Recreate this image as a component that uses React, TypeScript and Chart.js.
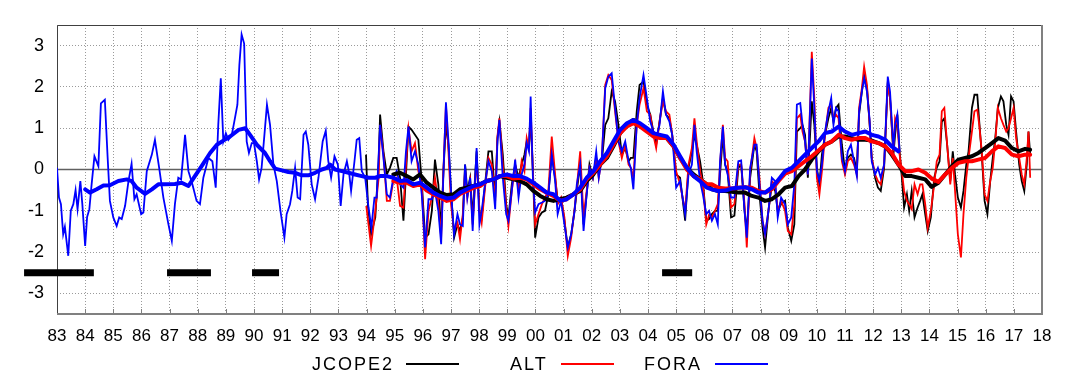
import React, { useEffect, useRef } from "react";
import { Chart, registerables } from "chart.js";

Chart.register(...registerables);

const FONT = "'Liberation Sans', Arial, Helvetica, sans-serif";

const X_TICK_YEARS = [
  1983, 1984, 1985, 1986, 1987, 1988, 1989, 1990, 1991, 1992, 1993, 1994,
  1995, 1996, 1997, 1998, 1999, 2000, 2001, 2002, 2003, 2004, 2005, 2006,
  2007, 2008, 2009, 2010, 2011, 2012, 2013, 2014, 2015, 2016, 2017, 2018,
];
const X_TICK_LABELS = [
  "83", "84", "85", "86", "87", "88", "89", "90", "91", "92", "93", "94",
  "95", "96", "97", "98", "99", "00", "01", "02", "03", "04", "05", "06",
  "07", "08", "09", "10", "11", "12", "13", "14", "15", "16", "17", "18",
];
const Y_TICKS = [-3, -2, -1, 0, 1, 2, 3];

const SERIES_NAMES = ["JCOPE2", "ALT", "FORA"];
const SERIES_COLORS = ["#000000", "#ff0000", "#0000ff"];

// FORA monthly-ish values before 1994.5 [year, value]
const FORA_EARLY = [
  [1983.0, 0.04], [1983.07, -0.68], [1983.14, -0.84], [1983.22, -1.57], [1983.28, -1.39],
  [1983.4, -2.09], [1983.49, -1.0], [1983.58, -0.84], [1983.66, -0.5], [1983.73, -0.96],
  [1983.83, -0.28], [1983.9, -0.84], [1984.0, -1.85], [1984.07, -1.15], [1984.15, -0.96],
  [1984.23, -0.36], [1984.33, 0.32], [1984.47, 0.08], [1984.56, 1.6], [1984.7, 1.69],
  [1984.8, 0.28], [1984.88, -0.76], [1985.0, -1.16], [1985.12, -1.37], [1985.21, -1.16],
  [1985.3, -1.2], [1985.42, -0.88], [1985.54, -0.28], [1985.65, 0.14], [1985.75, -0.72],
  [1985.83, -0.6], [1985.99, -1.08], [1986.07, -1.04], [1986.19, -0.04], [1986.37, 0.36],
  [1986.48, 0.72], [1986.63, 0.04], [1986.78, -0.68], [1986.96, -1.33], [1987.08, -1.73],
  [1987.19, -0.84], [1987.31, -0.2], [1987.41, -0.24], [1987.55, 0.84], [1987.67, -0.04],
  [1987.81, -0.36], [1987.96, -0.76], [1988.08, -0.84], [1988.2, -0.2], [1988.38, 0.28],
  [1988.52, 0.2], [1988.64, -0.44], [1988.73, 1.08], [1988.82, 2.21], [1988.91, 0.68],
  [1989.0, 0.88], [1989.09, 0.72], [1989.21, 0.84], [1989.3, 1.16], [1989.41, 1.57],
  [1989.48, 2.53], [1989.56, 3.27], [1989.65, 3.05], [1989.74, 0.68], [1989.82, 0.4],
  [1989.92, 0.64], [1990.0, 0.64], [1990.1, 0.2], [1990.18, -0.24], [1990.27, 0.04],
  [1990.37, 0.84], [1990.46, 1.57], [1990.57, 1.08], [1990.69, 0.12], [1990.81, -0.28],
  [1990.94, -1.0], [1991.08, -1.65], [1991.16, -1.08], [1991.28, -0.84], [1991.36, -0.52],
  [1991.46, 0.04], [1991.55, -0.68], [1991.64, -0.72], [1991.76, 0.84], [1991.84, 0.92],
  [1991.93, 0.6], [1992.05, -0.36], [1992.17, -0.72], [1992.29, -0.2], [1992.44, 0.68],
  [1992.55, 0.94], [1992.64, 0.2], [1992.74, -0.2], [1992.86, 0.32], [1992.98, 0.12],
  [1993.08, -0.88], [1993.18, -0.12], [1993.3, 0.2], [1993.38, -0.08], [1993.45, -0.52],
  [1993.57, 0.2], [1993.65, 0.72], [1993.74, 0.76], [1993.83, -0.04], [1993.95, -0.2],
  [1994.07, -0.92], [1994.17, -1.41], [1994.28, -0.68], [1994.36, -0.68],
];

const JCOPE2_START = [
  [1993.98, 0.36], [1994.05, -0.9], [1994.16, -1.57], [1994.31, -1.16], [1994.43, 0.2],
];
const ALT_START = [
  [1993.99, -0.88], [1994.16, -1.85], [1994.31, -1.0], [1994.43, -0.2],
];

// common sampling times from 1994.5 on
const MODERN_T = [
  1994.48, 1994.6, 1994.72, 1994.83, 1994.95,
  1995.07, 1995.19, 1995.31, 1995.4, 1995.49,
  1995.6, 1995.72, 1995.84, 1995.96, 1996.08,
  1996.2, 1996.32, 1996.43, 1996.55, 1996.65,
  1996.73, 1996.82, 1996.91, 1997.0, 1997.11,
  1997.23, 1997.32, 1997.42, 1997.5, 1997.58,
  1997.68, 1997.77, 1997.91, 1998.01, 1998.09,
  1998.21, 1998.33, 1998.45, 1998.57, 1998.65,
  1998.72, 1998.84, 1998.96, 1999.04, 1999.16,
  1999.28, 1999.4, 1999.51, 1999.61, 1999.69,
  1999.77, 1999.83, 1999.91, 1999.99, 2000.11,
  2000.23, 2000.34, 2000.46, 2000.58, 2000.7,
  2000.79, 2000.91, 2001.03, 2001.15, 2001.27,
  2001.39, 2001.47, 2001.59, 2001.71, 2001.82,
  2001.92, 2002.04, 2002.16, 2002.25, 2002.36,
  2002.48, 2002.59, 2002.71, 2002.83, 2002.95,
  2003.07, 2003.19, 2003.31, 2003.39, 2003.48,
  2003.6, 2003.7, 2003.84, 2003.96, 2004.08,
  2004.19, 2004.29, 2004.41, 2004.53, 2004.64,
  2004.76, 2004.86, 2005.0, 2005.14, 2005.32,
  2005.44, 2005.56, 2005.65, 2005.73, 2005.85,
  2005.95, 2006.07, 2006.17, 2006.27, 2006.38,
  2006.48, 2006.56, 2006.66, 2006.74, 2006.83,
  2006.95, 2007.07, 2007.21, 2007.31, 2007.43,
  2007.51, 2007.63, 2007.78, 2007.86, 2007.96,
  2008.07, 2008.16, 2008.28, 2008.4, 2008.52,
  2008.61, 2008.73, 2008.87, 2008.97, 2009.09,
  2009.2, 2009.29, 2009.41, 2009.49, 2009.58,
  2009.68, 2009.82, 2009.91, 2010.0, 2010.09,
  2010.18, 2010.29, 2010.41, 2010.51, 2010.59,
  2010.68, 2010.77, 2010.89, 2011.0, 2011.1,
  2011.21, 2011.32, 2011.42, 2011.5, 2011.6,
  2011.68, 2011.78, 2011.87, 2011.95, 2012.07,
  2012.17, 2012.27, 2012.39, 2012.52, 2012.6,
  2012.72, 2012.78, 2012.86, 2012.94, 2013.02,
  2013.1, 2013.2, 2013.28, 2013.37, 2013.47,
  2013.58, 2013.67, 2013.75, 2013.85, 2013.94,
  2014.05, 2014.17, 2014.26, 2014.36, 2014.44,
  2014.53, 2014.63, 2014.74, 2014.83, 2014.91,
  2015.01, 2015.12, 2015.21, 2015.31, 2015.39,
  2015.51, 2015.6, 2015.7, 2015.77, 2015.86,
  2015.96, 2016.06, 2016.16, 2016.25, 2016.34,
  2016.43, 2016.54, 2016.63, 2016.73, 2016.81,
  2016.9, 2016.99, 2017.08, 2017.19, 2017.28,
  2017.37, 2017.46, 2017.52, 2017.58,
];

const JCOPE2_MODERN = [
  1.33, 0.44, -0.12, 0.04, 0.28,
  0.28, -0.2, -1.24, -0.12, 1.04,
  0.96, 0.84, 0.72, -0.28, -1.65,
  -1.57, -1.0, 0.24, -0.36, -1.49,
  -0.04, 1.08, 0.6, -0.52, -1.65,
  -1.33, -1.49, -1.16, 0.12, -0.52,
  -0.2, -1.16, 0.44, -1.0, -1.16,
  -0.36, 0.44, 0.44, -0.68, 0.76,
  1.16, 0.36, -0.84, -1.16, -0.36,
  0.12, -0.2, 0.12, 0.36, 0.68,
  0.6, 1.24, -0.04, -1.65, -1.16,
  -1.04, -1.0, -0.6, 0.36, -0.2,
  -0.76, -0.68, -1.24, -1.89, -1.57,
  -1.0, -0.52, 0.12, -1.33, -0.6,
  0.12, -0.2, 0.28, -0.04, 0.2,
  1.08, 1.24, 1.89, 1.65, 1.08,
  0.36, 0.52, 0.2, 0.28, 0.28,
  1.41, 2.05, 2.13, 1.57, 1.33,
  0.92, 0.6, 1.16, 1.73, 1.33,
  1.24, 0.84, -0.12, -0.2, -1.24,
  0.04, 0.44, 0.84, 0.6, 0.2,
  -0.28, -1.24, -1.2, -1.08, -1.0,
  -1.0, -0.12, 0.84, 0.12, -0.04,
  -1.16, -1.12, 0.04, 0.12, -1.0,
  -1.49, -0.2, 0.6, 0.44, -0.6,
  -1.41, -1.89, -1.0, -0.36, -0.52,
  -1.0, -0.84, -0.76, -1.41, -1.73,
  -1.33, 0.92, 1.0, 1.08, 0.84,
  -0.2, 1.65, 1.08, 0.04, -0.36,
  0.36, 0.84, 1.24, 1.49, 1.16,
  1.49, 1.57, 0.6, -0.04, 0.28,
  0.36, 0.28, -0.04, 1.33, 1.89,
  2.29, 1.97, 1.16, 0.28, -0.2,
  -0.44, -0.52, 0.04, 2.13, 1.73,
  0.36, 0.84, 1.33, 0.44, -0.2,
  -0.92, -0.6, -1.0, -0.52, -1.16,
  -0.92, -0.76, -0.6, -1.08, -1.49,
  -1.16, -0.2, 0.04, 0.2, 1.16,
  1.24, 0.6, -0.28, 0.44, -0.12,
  -0.68, -0.92, -0.52, 0.12, 0.44,
  1.49, 1.81, 1.81, 1.16, 0.36,
  -0.76, -1.08, -0.28, 0.28, 0.76,
  1.49, 1.77, 1.65, 1.08, 0.84,
  1.77, 1.65, 0.92, 0.12, -0.28,
  -0.52, 0.12, 0.92, 0.36,
];

const ALT_MODERN = [
  1.08, 0.36, -0.76, -0.76, -0.28,
  -0.2, -0.88, -0.92, 0.12, 1.0,
  0.44, 0.64, -0.04, -0.36, -2.17,
  -1.0, -0.68, -0.2, -0.84, -1.65,
  -0.04, 1.57, 0.44, -0.84, -1.49,
  -1.29, -1.69, -1.08, -0.04, -0.68,
  -0.28, -1.33, 0.28, -1.0, -1.29,
  -0.44, 0.28, 0.12, -0.76, 0.8,
  1.24, 0.12, -0.92, -1.37, -0.52,
  0.12, -0.52, 0.2, -0.04, 0.76,
  0.52, 1.49, -0.04, -1.33, -1.08,
  -0.84, -0.68, -0.52, 0.8, -0.12,
  -0.84, -0.68, -1.16, -2.09, -1.65,
  -0.96, -0.44, 0.44, -1.16, -0.52,
  0.04, -0.2, 0.28, -0.2, 0.28,
  2.05, 2.29, 2.17, 1.41, 0.68,
  0.28, 0.6, 0.12, 0.04, -0.2,
  1.08, 1.57, 1.97, 1.41, 1.33,
  0.84, 0.52, 1.16, 1.65, 1.41,
  1.33, 0.84, -0.04, -0.36, -1.0,
  0.12, 0.52, 1.24, 0.68, -0.04,
  -0.36, -1.33, -1.1, -1.16, -1.0,
  -0.84, 0.12, 1.08, 0.28, 0.2,
  -0.92, -0.84, 0.12, 0.12, -0.84,
  -1.89, -0.04, 0.76, 0.52, -0.2,
  -1.24, -1.57, -1.0, -0.28, -0.36,
  -1.0, -0.76, -1.0, -1.49, -1.57,
  -0.84, 1.24, 1.33, 0.92, 0.68,
  -0.12, 2.85, 1.73, -0.2, -0.6,
  -0.04, 0.84, 1.49, 1.57, 1.24,
  1.33, 1.24, 0.2, -0.12, 0.2,
  0.28, 0.12, -0.12, 1.49, 1.97,
  2.49, 2.05, 1.16, 0.28, -0.12,
  -0.28, -0.36, 0.12, 2.09, 1.73,
  0.44, 1.24, 1.08, 0.36, -0.04,
  -0.52, -0.76, -0.84, -0.96, -0.36,
  -0.6, -0.36, -0.36, -0.84, -1.41,
  -1.0, -0.36, 0.2, 0.36, 1.41,
  1.49, 0.6, -0.36, 0.28, -0.52,
  -1.57, -2.13, -1.08, -0.2, 0.28,
  0.92, 1.41, 1.45, 1.08, 0.44,
  -0.6, -0.76, -0.28, 0.04, 0.68,
  1.49, 1.24, 1.08, 0.92, 1.0,
  1.24, 1.49, 0.76, 0.28, -0.12,
  -0.36, 0.28, 0.92, -0.2,
];

const FORA_MODERN = [
  1.08, 0.28, -0.6, -0.68, -0.2,
  -0.04, -0.36, -0.44, 0.44, 1.04,
  0.2, 0.44, 0.12, -0.6, -1.89,
  -0.72, -0.72, -0.52, -1.0, -1.81,
  -0.12, 1.63, 0.68, -0.52, -1.57,
  -1.08, -1.33, -1.37, 0.12, -0.68,
  -0.2, -1.49, 0.52, -1.33, -1.0,
  -0.36, 0.2, -0.04, -0.96, 0.68,
  1.2, -0.2, -1.08, -1.24, -0.52,
  0.24, -0.68, -0.12, 0.12, 0.64,
  0.44, 1.77, -0.2, -1.04, -0.84,
  -0.8, -0.76, -0.6, 0.36, -0.28,
  -1.08, -0.76, -1.33, -1.89, -1.57,
  -1.0, -0.36, 0.12, -1.49, -0.6,
  0.04, -0.2, 0.44, -0.2, 0.28,
  1.97, 2.25, 2.33, 1.49, 0.68,
  0.44, 0.68, 0.2, 0.04, -0.48,
  1.08, 1.73, 2.29, 1.73, 1.16,
  0.92, 0.76, 1.08, 1.89, 1.33,
  1.16, 0.84, -0.44, -0.28, -1.08,
  -0.12, 0.12, 1.08, 0.44, -0.28,
  -0.6, -1.08, -1.0, -1.24, -1.08,
  -1.33, 0.2, 1.04, 0.12, -0.12,
  -0.68, -0.68, 0.2, 0.22, -1.0,
  -1.65, 0.04, 0.6, 0.6, -0.36,
  -1.24, -1.57, -1.0, -0.2, -0.28,
  -1.16, -0.68, -0.84, -1.33, -1.16,
  -0.36, 1.57, 1.61, 1.08, 0.68,
  -0.12, 2.69, 1.49, -0.04, -0.28,
  0.12, 0.92, 1.41, 1.73, 1.08,
  1.49, 1.41, 0.28, -0.04, 0.44,
  0.6, 0.2, -0.16, 1.41, 1.89,
  2.21, 1.89, 1.24, 0.2, -0.12,
  0.04, -0.2, 0.12, 2.25, 1.89,
  0.52, 1.08, 1.33, 0.44,
];

// smoothed (running mean) curves [year, value]
const FORA_SMOOTH = [
  [1984.0, -0.48], [1984.17, -0.56], [1984.41, -0.48], [1984.65, -0.39], [1984.88, -0.38],
  [1985.18, -0.28], [1985.48, -0.24], [1985.65, -0.28], [1985.83, -0.44], [1986.13, -0.59],
  [1986.37, -0.48], [1986.6, -0.36], [1986.84, -0.36], [1987.19, -0.35], [1987.43, -0.32],
  [1987.67, -0.4], [1987.9, -0.16], [1988.14, 0.08], [1988.44, 0.4], [1988.68, 0.6],
  [1988.91, 0.7], [1989.15, 0.8], [1989.45, 0.96], [1989.69, 1.0], [1989.86, 0.84],
  [1990.1, 0.6], [1990.39, 0.4], [1990.57, 0.2], [1990.75, 0.02], [1990.99, -0.02],
  [1991.22, -0.06], [1991.46, -0.08], [1991.7, -0.14], [1991.93, -0.14], [1992.17, -0.08],
  [1992.41, 0.0], [1992.59, 0.04], [1992.7, 0.12], [1992.88, 0.0], [1993.12, -0.04],
  [1993.36, -0.08], [1993.59, -0.12], [1993.83, -0.16], [1994.07, -0.2], [1994.31, -0.2],
  [1994.48, -0.16], [1994.72, -0.16], [1994.95, -0.2], [1995.19, -0.28], [1995.43, -0.26],
  [1995.66, -0.36], [1995.9, -0.32], [1996.14, -0.44], [1996.37, -0.56], [1996.61, -0.64],
  [1996.85, -0.7], [1997.09, -0.68], [1997.32, -0.56], [1997.56, -0.48], [1997.8, -0.4],
  [1998.03, -0.36], [1998.27, -0.28], [1998.51, -0.24], [1998.74, -0.16], [1998.98, -0.12],
  [1999.22, -0.16], [1999.45, -0.16], [1999.69, -0.22], [1999.93, -0.32], [2000.17, -0.44],
  [2000.4, -0.56], [2000.64, -0.6], [2000.88, -0.76], [2001.11, -0.72], [2001.35, -0.6],
  [2001.59, -0.44], [2001.82, -0.2], [2002.06, -0.04], [2002.3, 0.2], [2002.54, 0.4],
  [2002.77, 0.68], [2003.01, 0.96], [2003.25, 1.12], [2003.48, 1.2], [2003.72, 1.12],
  [2003.96, 1.0], [2004.19, 0.88], [2004.43, 0.84], [2004.67, 0.8], [2004.91, 0.6],
  [2005.14, 0.32], [2005.38, 0.04], [2005.62, -0.16], [2005.85, -0.28], [2006.09, -0.44],
  [2006.27, -0.48], [2006.5, -0.52], [2006.74, -0.51], [2006.98, -0.46], [2007.21, -0.44],
  [2007.45, -0.43], [2007.69, -0.48], [2007.92, -0.56], [2008.16, -0.56], [2008.4, -0.44],
  [2008.64, -0.24], [2008.87, -0.04], [2009.11, 0.04], [2009.35, 0.2], [2009.58, 0.36],
  [2009.82, 0.52], [2010.06, 0.68], [2010.29, 0.88], [2010.53, 0.92], [2010.77, 1.04],
  [2011.0, 0.92], [2011.24, 0.84], [2011.48, 0.88], [2011.72, 0.92], [2011.95, 0.84],
  [2012.19, 0.8], [2012.43, 0.72], [2012.66, 0.56], [2012.9, 0.44],
];

const ALT_SMOOTH = [
  [1994.95, -0.28], [1995.19, -0.32], [1995.43, -0.32], [1995.66, -0.4], [1995.9, -0.36],
  [1996.14, -0.51], [1996.37, -0.6], [1996.61, -0.68], [1996.85, -0.76], [1997.09, -0.72],
  [1997.32, -0.59], [1997.56, -0.52], [1997.8, -0.44], [1998.03, -0.4], [1998.27, -0.28],
  [1998.51, -0.24], [1998.74, -0.16], [1998.98, -0.16], [1999.22, -0.22], [1999.45, -0.2],
  [1999.69, -0.24], [1999.93, -0.36], [2000.17, -0.48], [2000.4, -0.56], [2000.64, -0.64],
  [2000.88, -0.76], [2001.11, -0.72], [2001.35, -0.6], [2001.59, -0.48], [2001.82, -0.24],
  [2002.06, -0.08], [2002.3, 0.12], [2002.54, 0.32], [2002.77, 0.6], [2003.01, 0.88],
  [2003.25, 1.04], [2003.48, 1.12], [2003.72, 1.04], [2003.96, 0.92], [2004.19, 0.8],
  [2004.43, 0.76], [2004.67, 0.76], [2004.91, 0.56], [2005.14, 0.28], [2005.38, 0.0],
  [2005.62, -0.16], [2005.85, -0.24], [2006.09, -0.36], [2006.27, -0.36], [2006.5, -0.44],
  [2006.74, -0.46], [2006.98, -0.46], [2007.21, -0.44], [2007.45, -0.43], [2007.69, -0.44],
  [2007.92, -0.52], [2008.16, -0.56], [2008.4, -0.48], [2008.64, -0.28], [2008.87, -0.1],
  [2009.11, -0.04], [2009.35, 0.08], [2009.58, 0.2], [2009.82, 0.32], [2010.06, 0.46],
  [2010.29, 0.6], [2010.53, 0.68], [2010.77, 0.84], [2011.0, 0.76], [2011.24, 0.72],
  [2011.48, 0.76], [2011.72, 0.76], [2011.95, 0.68], [2012.19, 0.64], [2012.43, 0.56],
  [2012.66, 0.4], [2012.9, 0.12], [2013.14, -0.04], [2013.37, -0.04], [2013.61, 0.0],
  [2013.85, -0.08], [2014.08, -0.22], [2014.32, -0.3], [2014.56, -0.12], [2014.8, 0.04],
  [2015.03, 0.16], [2015.27, 0.2], [2015.51, 0.2], [2015.74, 0.24], [2015.98, 0.28],
  [2016.22, 0.44], [2016.45, 0.56], [2016.69, 0.52], [2016.93, 0.36], [2017.16, 0.32],
  [2017.4, 0.36], [2017.58, 0.36],
];

const JCOPE2_SMOOTH = [
  [1994.95, -0.12], [1995.19, -0.08], [1995.43, -0.16], [1995.66, -0.24], [1995.9, -0.12],
  [1996.14, -0.32], [1996.37, -0.44], [1996.61, -0.56], [1996.85, -0.62], [1997.09, -0.6],
  [1997.32, -0.48], [1997.56, -0.44], [1997.8, -0.4], [1998.03, -0.36], [1998.27, -0.28],
  [1998.51, -0.24], [1998.74, -0.16], [1998.98, -0.2], [1999.22, -0.24], [1999.45, -0.28],
  [1999.69, -0.36], [1999.93, -0.52], [2000.17, -0.64], [2000.4, -0.72], [2000.64, -0.76],
  [2000.88, -0.72], [2001.11, -0.68], [2001.35, -0.6], [2001.59, -0.52], [2001.82, -0.28],
  [2002.06, -0.12], [2002.3, 0.12], [2002.54, 0.28], [2002.77, 0.56], [2003.01, 0.88],
  [2003.25, 1.08], [2003.48, 1.2], [2003.72, 1.08], [2003.96, 0.96], [2004.19, 0.88],
  [2004.43, 0.8], [2004.67, 0.76], [2004.91, 0.56], [2005.14, 0.28], [2005.38, 0.04],
  [2005.62, -0.12], [2005.85, -0.24], [2006.09, -0.36], [2006.27, -0.48], [2006.5, -0.52],
  [2006.74, -0.52], [2006.98, -0.54], [2007.21, -0.56], [2007.45, -0.56], [2007.69, -0.64],
  [2007.92, -0.68], [2008.16, -0.76], [2008.4, -0.72], [2008.64, -0.6], [2008.87, -0.44],
  [2009.11, -0.4], [2009.35, -0.16], [2009.58, 0.0], [2009.82, 0.24], [2010.06, 0.44],
  [2010.29, 0.6], [2010.53, 0.68], [2010.77, 0.8], [2011.0, 0.8], [2011.24, 0.76],
  [2011.48, 0.72], [2011.72, 0.72], [2011.95, 0.7], [2012.19, 0.64], [2012.43, 0.56],
  [2012.66, 0.36], [2012.9, 0.12], [2013.14, -0.16], [2013.37, -0.16], [2013.61, -0.2],
  [2013.85, -0.24], [2014.08, -0.42], [2014.32, -0.32], [2014.56, -0.12], [2014.8, 0.08],
  [2015.03, 0.24], [2015.27, 0.28], [2015.51, 0.32], [2015.74, 0.4], [2015.98, 0.52],
  [2016.22, 0.64], [2016.45, 0.76], [2016.69, 0.7], [2016.93, 0.52], [2017.16, 0.44],
  [2017.4, 0.5], [2017.58, 0.48],
];

// black horizontal bars at -2.5 (start year, end year)
const BAR_LEVEL = -2.5;
const BARS = [
  [1981.83, 1984.31],
  [1986.91, 1988.47],
  [1989.93, 1990.89],
  [2004.5, 2005.57],
];

const pts = (a: number[][]) => a.map(([x, y]) => ({ x, y }));
const onGrid = (t: number[], v: number[]) =>
  v.map((y, i) => ({ x: t[i], y })).filter((p) => p.x !== undefined);

export default function App() {
  const ref = useRef<HTMLCanvasElement | null>(null);

  useEffect(() => {
    if (!ref.current) return;

    const framePlugin = {
      id: "frame",
      beforeDatasetsDraw(chart: any) {
        const { ctx, chartArea: a, scales } = chart;
        ctx.save();
        ctx.strokeStyle = "#808080";
        ctx.lineWidth = 1;
        for (const yr of X_TICK_YEARS) {
          const px = Math.round(scales.x.getPixelForValue(yr)) + 0.5;
          ctx.beginPath();
          ctx.moveTo(px, a.bottom);
          ctx.lineTo(px, a.bottom - 5);
          ctx.stroke();
        }
        ctx.strokeStyle = "#404040";
        ctx.lineWidth = 1;
        ctx.beginPath();
        ctx.moveTo(a.left + 0.5, a.bottom);
        ctx.lineTo(a.left + 0.5, a.top + 0.5);
        ctx.lineTo(a.right, a.top + 0.5);
        ctx.stroke();
        ctx.strokeStyle = "#808080";
        ctx.lineWidth = 2;
        ctx.beginPath();
        ctx.moveTo(a.left, a.bottom);
        ctx.lineTo(a.right, a.bottom);
        ctx.lineTo(a.right, a.top);
        ctx.stroke();
        ctx.restore();
      },
    };

    const thin = (label: string, color: string, data: any[], order: number) => ({
      label,
      data,
      borderColor: color,
      backgroundColor: color,
      borderWidth: 1.8,
      pointRadius: 0,
      fill: false,
      tension: 0,
      order,
    });
    const thick = (label: string, color: string, data: any[], order: number) => ({
      label,
      data,
      borderColor: color,
      backgroundColor: color,
      borderWidth: 4,
      pointRadius: 0,
      fill: false,
      tension: 0,
      borderJoinStyle: "round",
      borderCapStyle: "round",
      order,
    });

    const datasets: any[] = [
      thick("FORA smooth", SERIES_COLORS[2], pts(FORA_SMOOTH), 0),
      thick("ALT smooth", SERIES_COLORS[1], pts(ALT_SMOOTH), 1),
      thick("JCOPE2 smooth", SERIES_COLORS[0], pts(JCOPE2_SMOOTH), 2),
      thin(SERIES_NAMES[2], SERIES_COLORS[2], [...pts(FORA_EARLY), ...onGrid(MODERN_T, FORA_MODERN)], 3),
      thin(SERIES_NAMES[1], SERIES_COLORS[1], [...pts(ALT_START), ...onGrid(MODERN_T, ALT_MODERN)], 4),
      thin(SERIES_NAMES[0], SERIES_COLORS[0], [...pts(JCOPE2_START), ...onGrid(MODERN_T, JCOPE2_MODERN)], 5),
      ...BARS.map(([a, b], i) => ({
        label: "bar" + i,
        data: [{ x: a, y: BAR_LEVEL }, { x: b, y: BAR_LEVEL }],
        borderColor: "#000",
        borderWidth: 7,
        borderCapStyle: "butt",
        pointRadius: 0,
        clip: false,
        order: 6,
      })),
      {
        label: "zero",
        data: [{ x: X_TICK_YEARS[0], y: 0 }, { x: X_TICK_YEARS[X_TICK_YEARS.length - 1], y: 0 }],
        borderColor: "#606060",
        borderWidth: 1.5,
        pointRadius: 0,
        order: 10,
      },
    ];

    const chart = new Chart(ref.current, {
      type: "line",
      data: { datasets },
      options: {
        animation: false,
        responsive: true,
        maintainAspectRatio: false,
        layout: { padding: { top: 25, right: 38, left: 0, bottom: 0 } },
        plugins: { legend: { display: false }, tooltip: { enabled: false } },
        scales: {
          x: {
            type: "linear",
            min: X_TICK_YEARS[0],
            max: X_TICK_YEARS[X_TICK_YEARS.length - 1],
            afterBuildTicks: (s: any) => {
              s.ticks = X_TICK_YEARS.map((v) => ({ value: v }));
            },
            afterFit: (s: any) => {
              s.height = 64;
            },
            ticks: {
              autoSkip: false,
              maxRotation: 0,
              minRotation: 0,
              padding: 12,
              color: "#000",
              font: { family: FONT, size: 17 },
              callback: (_v: any, i: number) => X_TICK_LABELS[i],
            },
            grid: { color: "#9a9a9a", lineWidth: 1, drawTicks: false },
            border: { display: false, dash: [1, 2] },
          },
          y: {
            type: "linear",
            min: -3.5,
            max: 3.5,
            afterBuildTicks: (s: any) => {
              s.ticks = Y_TICKS.map((v) => ({ value: v }));
            },
            afterFit: (s: any) => {
              s.width = 57;
            },
            ticks: {
              padding: 13,
              color: "#000",
              font: { family: FONT, size: 18 },
              callback: (v: any) => String(v),
            },
            grid: { color: "#9a9a9a", lineWidth: 1, drawTicks: false },
            border: { display: false, dash: [1, 2] },
          },
        },
      },
      plugins: [framePlugin],
    });

    return () => chart.destroy();
  }, []);

  const legendText = (left: number, text: string) => (
    <span
      style={{
        position: "absolute",
        left,
        top: 355,
        fontFamily: FONT,
        fontSize: 18,
        lineHeight: "18px",
        letterSpacing: "2px",
        color: "#000",
        whiteSpace: "nowrap",
      }}
    >
      {text}
    </span>
  );
  const legendLine = (left: number, color: string) => (
    <div
      style={{
        position: "absolute",
        left,
        top: 363,
        width: 53,
        height: 2,
        background: color,
      }}
    />
  );

  return (
    <div style={{ position: "absolute", left: 0, top: 0, width: 1080, height: 378, background: "#fff" }}>
      <div style={{ position: "absolute", left: 0, top: 0, width: 1080, height: 378 }}>
        <canvas ref={ref} />
      </div>
      {legendText(312, SERIES_NAMES[0])}
      {legendLine(406, SERIES_COLORS[0])}
      {legendText(510, SERIES_NAMES[1])}
      {legendLine(561, SERIES_COLORS[1])}
      {legendText(644, SERIES_NAMES[2])}
      {legendLine(715, SERIES_COLORS[2])}
    </div>
  );
}
